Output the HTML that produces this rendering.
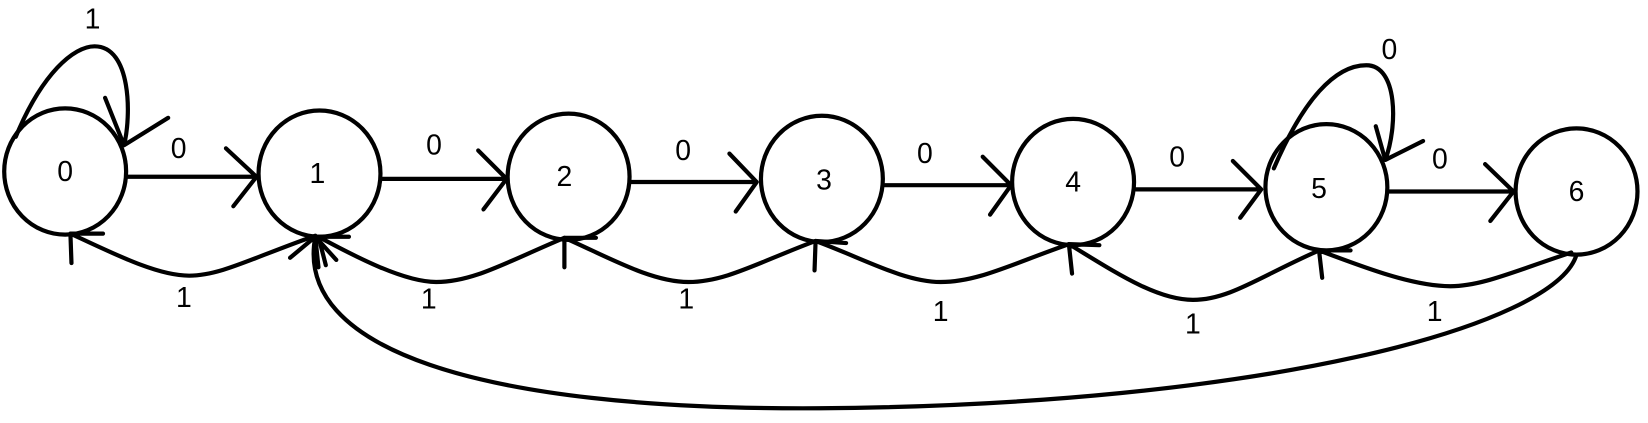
<!DOCTYPE html>
<html><head><meta charset="utf-8"><style>
html,body{margin:0;padding:0;background:#fff;}
svg{display:block;}
text{font-family:"Liberation Sans",sans-serif;font-size:27px;fill:#000;text-anchor:middle;}
</style></head><body>
<svg width="1648" height="423" viewBox="0 0 1568 402" preserveAspectRatio="none" xmlns="http://www.w3.org/2000/svg">
<g fill="none" stroke="#000" stroke-width="4" stroke-linecap="round" stroke-linejoin="round">
<ellipse cx="62" cy="163" rx="58" ry="60"/>
<ellipse cx="304" cy="165" rx="58" ry="60"/>
<ellipse cx="541" cy="168" rx="58" ry="60"/>
<ellipse cx="782" cy="170" rx="58" ry="60"/>
<ellipse cx="1021" cy="173" rx="58" ry="60"/>
<ellipse cx="1262" cy="178" rx="58" ry="60"/>
<ellipse cx="1500" cy="182" rx="58" ry="60"/>
<path d="M122,168 H244 M215,141 L244,168 L222,196"/>
<path d="M364,170 H482 M455,143 L482,170 L460,199"/>
<path d="M601,173 H720 M694,146 L720,173 L700,201"/>
<path d="M842,176 H962 M935,149 L962,176 L942,204"/>
<path d="M1081,180 H1200 M1173,153 L1200,180 L1180,207"/>
<path d="M1322,182 H1440 M1413,156 L1440,182 L1418,210"/>
<path d="M300,224 C240,245 210,262 180,262 C150,262 110,242 67,222 M67,222 L98,222 M67,222 L68,250"/>
<path d="M537,226 C480,250 450,268 415,268 C385,268 340,245 303,225 M303,225 L332,225 M303,225 L310,252"/>
<path d="M776,229 C720,250 690,268 655,268 C620,268 580,245 537,226 M537,226 L567,226 M537,226 L537,254"/>
<path d="M1017,232 C960,252 930,268 895,268 C860,268 820,245 776,229 M776,229 L805,231 M776,229 L775,257"/>
<path d="M1255,238 C1200,262 1170,285 1135,285 C1100,285 1060,258 1017,232 M1017,232 L1046,233 M1017,232 L1020,260"/>
<path d="M1495,240 C1440,258 1410,272 1380,272 C1345,272 1300,255 1255,238 M1255,238 L1285,238 M1255,238 L1258,264"/>
<path d="M1500,242 C1480,310 1200,385 780,388 C450,390 280,330 300,225 M300,225 L276,245 M300,225 L303,254 M300,225 L320,247"/>
<path d="M15,130 C40,70 70,44 90,44 C125,44 125,110 118,138 M118,138 L100,93 M118,138 L160,112"/>
<path d="M1212,160 C1240,95 1270,62 1300,62 C1330,62 1330,120 1318,152 M1318,152 L1309,120 M1318,152 L1354,134"/>
</g>
<text x="62" y="172">0</text>
<text x="302" y="174">1</text>
<text x="537" y="177">2</text>
<text x="784" y="180">3</text>
<text x="1021" y="182">4</text>
<text x="1255" y="188">5</text>
<text x="1500" y="191">6</text>
<text x="88" y="27">1</text>
<text x="170" y="150">0</text>
<text x="413" y="147">0</text>
<text x="650" y="152">0</text>
<text x="880" y="155">0</text>
<text x="1120" y="158">0</text>
<text x="1370" y="160">0</text>
<text x="1322" y="56">0</text>
<text x="175" y="292">1</text>
<text x="408" y="293">1</text>
<text x="653" y="293">1</text>
<text x="895" y="305">1</text>
<text x="1135" y="317">1</text>
<text x="1365" y="305">1</text>
</svg>
</body></html>
